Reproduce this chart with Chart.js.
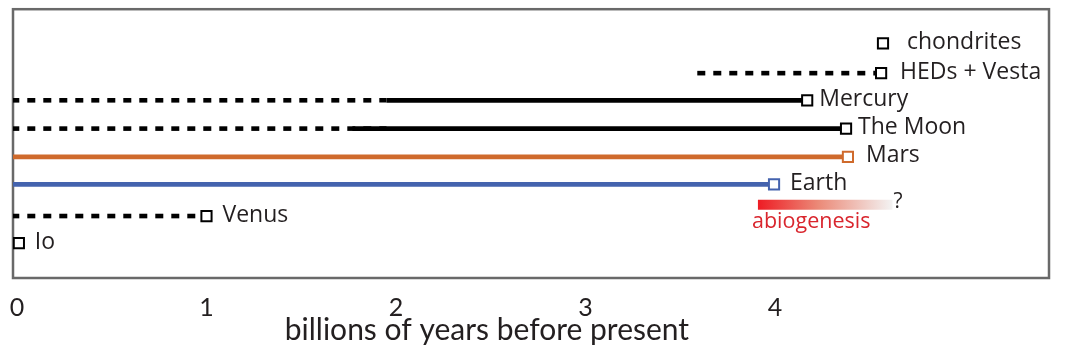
<!DOCTYPE html>
<html><head><meta charset="utf-8">
<script src="https://cdn.jsdelivr.net/npm/chart.js@4"></script>
<style>html,body{margin:0;padding:0;background:#fff}canvas{display:block}</style>
</head><body>
<canvas id="c" width="1068" height="357"></canvas>
<script>
// ---- data ----
const bodies     = ['chondrites','HEDs + Vesta','Mercury','The Moon','Mars','Earth','Venus','Io'];
const rowLevel   = [8.29, 7.24, 6.28, 5.28, 4.28, 3.31, 2.19, 1.23];
const oldestAge  = [4.57, 4.56, 4.17, 4.375, 4.385, 3.995, 1.0, 0.01];
const dashedFrom = [null, 3.59, -0.03, -0.03, null, null, -0.03, null];
const dashedTo   = [null, 4.56, 1.95, 1.95, null, null, 1.0, null];
const solidFrom  = [null, null, 1.95, 1.77, -0.03, -0.03, null, null];
const abiogenesisRange = [3.91, 4.62];
const abiogenesisLevel = 2.59;
const xTicks = [0, 1, 2, 3, 4];
const xTitle = 'billions of years before present';
const xTitleCenter = 2.48;

// ---- style ----
const style = {
  lineColor: ['#000','#000','#000','#000','#cf6a2c','#4463ae','#000','#000'],
  labelOffset: [24, 19, 12, 12, 18, 16, 16, 16],
  text: '#231f20',
  labelFont: '23px "Open Sans"',
  frame: '#696969'
};

const datasets = [];
bodies.forEach((b, i) => {
  const y = rowLevel[i];
  datasets.push({
    label: b + ' marker', order: 0,
    data: [{x: oldestAge[i], y}],
    pointStyle: 'rect', pointRadius: 7.2, pointHoverRadius: 7.2,
    pointBorderWidth: 2, pointBackgroundColor: '#fff',
    pointBorderColor: style.lineColor[i], showLine: false
  });
  if (dashedFrom[i] !== null) {
    datasets.push({
      label: b + ' dashed', order: 2,
      data: [{x: dashedFrom[i], y}, {x: dashedTo[i], y}],
      showLine: true, borderColor: '#000', borderWidth: 4.6,
      borderDash: [8, 8], borderCapStyle: 'butt', pointRadius: 0
    });
  }
  if (solidFrom[i] !== null) {
    datasets.push({
      label: b + ' solid', order: 1,
      data: [{x: solidFrom[i], y}, {x: oldestAge[i], y}],
      showLine: true, borderColor: style.lineColor[i], borderWidth: 4.8,
      borderCapStyle: 'butt', pointRadius: 0
    });
  }
});
datasets.push({
  label: 'abiogenesis', order: 1,
  data: [{x: abiogenesisRange[0], y: abiogenesisLevel}, {x: abiogenesisRange[1], y: abiogenesisLevel}],
  showLine: true, borderWidth: 10, borderCapStyle: 'butt', pointRadius: 0,
  borderColor: (ctx) => {
    const chart = ctx.chart;
    if (!chart.chartArea) return '#ee1c24';
    const xs = chart.scales.x;
    const g = chart.ctx.createLinearGradient(xs.getPixelForValue(abiogenesisRange[0]), 0, xs.getPixelForValue(abiogenesisRange[1]), 0);
    g.addColorStop(0, '#ee1c24');
    g.addColorStop(0.45, '#eb8a78');
    g.addColorStop(1, '#f3f3f3');
    return g;
  }
});

const decor = {
  id: 'decor',
  beforeDatasetsDraw(chart) {
    const {ctx, chartArea: a} = chart;
    ctx.save();
    ctx.strokeStyle = style.frame; ctx.lineWidth = 2.5;
    ctx.strokeRect(a.left, a.top, a.right - a.left, a.bottom - a.top);
    ctx.restore();
  },
  afterDatasetsDraw(chart) {
    const {ctx, scales: {x, y}} = chart;
    ctx.save();
    ctx.font = style.labelFont;
    ctx.fillStyle = style.text;
    ctx.textBaseline = 'middle';
    ctx.textAlign = 'left';
    bodies.forEach((b, i) => {
      ctx.fillText(b, x.getPixelForValue(oldestAge[i]) + style.labelOffset[i], y.getPixelForValue(rowLevel[i]) - 1);
    });
    const by = y.getPixelForValue(abiogenesisLevel);
    ctx.font = '21px "Open Sans"';
    ctx.fillText('?', x.getPixelForValue(abiogenesisRange[1]) + 1, by - 3);
    ctx.fillStyle = '#d9252d';
    ctx.textAlign = 'center';
    ctx.font = '21.5px "Open Sans"';
    ctx.fillText('abiogenesis', (x.getPixelForValue(abiogenesisRange[0]) + x.getPixelForValue(abiogenesisRange[1])) / 2 - 14, by + 17);
    // axis title
    ctx.fillStyle = style.text;
    ctx.font = '30px Lato';
    ctx.textBaseline = 'alphabetic';
    ctx.fillText(xTitle, x.getPixelForValue(xTitleCenter), chart.chartArea.bottom + 62);
    ctx.restore();
  }
};

new Chart(document.getElementById('c'), {
  type: 'scatter',
  data: { datasets },
  options: {
    responsive: false, animation: false,
    layout: { padding: { left: 13, right: 19, top: 7, bottom: 0 } },
    plugins: { legend: { display: false }, tooltip: { enabled: false } },
    scales: {
      x: {
        type: 'linear', min: -0.021, max: 5.446,
        afterBuildTicks: (s) => { s.ticks = xTicks.map(v => ({value: v})); },
        afterFit: (s) => { s.height = 79; s.paddingLeft = 0; s.paddingRight = 0; },
        grid: { display: false, drawTicks: false },
        border: { display: false },
        ticks: { color: style.text, font: { family: 'Lato', size: 25, lineHeight: 1.1 }, padding: 16, maxRotation: 0 },
        title: { display: false }
      },
      y: { type: 'linear', min: 0, max: 9.5, display: false }
    }
  },
  plugins: [decor]
});
</script>
</body></html>
